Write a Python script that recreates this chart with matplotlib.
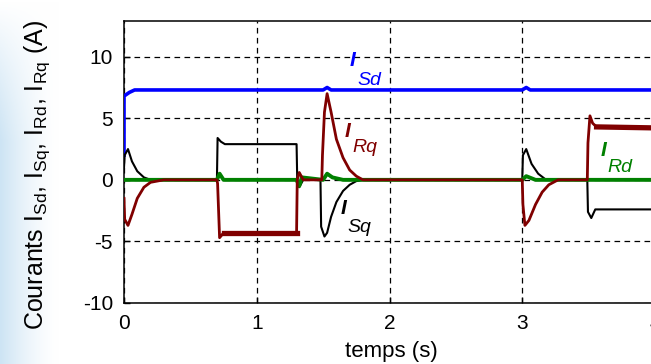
import matplotlib
matplotlib.use("Agg")
import matplotlib.pyplot as plt
import numpy as np

plt.rcParams['font.family'] = ['Liberation Sans', 'DejaVu Sans']
plt.rcParams['axes.unicode_minus'] = False

# I_Sd (blue)
t_sd = [0.0, 0.0, 0.04, 0.08, 1.50, 1.53, 1.56, 3.0, 3.03, 3.06, 4.1]
i_sd = [2.0, 6.8, 7.1, 7.3, 7.3, 7.5, 7.3, 7.3, 7.5, 7.3, 7.3]

# I_Sq (black)
t_sq = [0.0, 0.005, 0.03, 0.06, 0.10, 0.15, 0.20, 0.70, 0.705, 0.73, 0.76, 1.30,
        1.305, 1.32, 1.35, 1.48, 1.485, 1.51, 1.53, 1.56, 1.60, 1.65, 1.70, 1.75, 1.80,
        3.0, 3.005, 3.03, 3.07, 3.12, 3.18, 3.49, 3.495, 3.52, 3.55, 4.1]
i_sq = [1.0, 2.0, 2.5, 1.5, 0.7, 0.2, 0.0, 0.0, 3.4, 3.1, 2.9, 2.9,
        0.0, -0.6, 0.0, 0.0, -3.8, -4.6, -4.3, -3.0, -1.8, -0.9, -0.4, -0.1, 0.0,
        0.0, 2.0, 2.5, 1.3, 0.5, 0.0, 0.0, -2.6, -3.1, -2.4, -2.4]

# I_Rd (green)
t_rd = [0.0, 0.70, 0.72, 0.75, 1.30, 1.32, 1.34, 1.50, 1.53, 1.57, 1.65, 3.0, 3.03, 3.10, 4.1]
i_rd = [0.0, 0.0, 0.5, 0.0, 0.0, -0.5, 0.2, 0.0, 0.5, 0.2, 0.0, 0.0, 0.3, 0.0, 0.0]

# I_Rq (dark red)
t_rq = [0.0, 0.005, 0.03, 0.06, 0.10, 0.15, 0.20, 0.30, 0.70, 0.705, 0.72, 0.75,
        1.30, 1.305, 1.32, 1.35, 1.49, 1.495, 1.51, 1.53, 1.56, 1.60, 1.65, 1.70,
        1.75, 1.80, 3.0, 3.005, 3.02, 3.05, 3.10, 3.15, 3.20, 3.27, 3.49, 3.495,
        3.51, 3.53, 3.56, 4.1]
i_rq = [-1.5, -3.2, -3.7, -2.8, -1.5, -0.6, -0.2, 0.0, 0.0, -0.3, -4.7, -4.3,
        -4.3, 0.0, 0.6, 0.0, 0.0, 2.0, 5.5, 7.0, 5.5, 3.3, 1.8, 0.8,
        0.3, 0.0, 0.0, -2.0, -3.7, -3.3, -2.0, -1.0, -0.4, 0.0, 0.0, 3.0,
        5.2, 4.6, 4.3, 4.2]

x_ticks = [0, 1, 2, 3, 4]
y_ticks = [-10, -5, 0, 5, 10]

fig = plt.figure(figsize=(6.51, 3.64), dpi=100)

# light blue slide background on the left edge
bg = fig.add_axes([0, 0, 0.09, 1], zorder=-10)
xs = np.linspace(0, 1, 60)
ys = np.linspace(0, 1, 100)
alpha = (1 - xs[None, :]) ** 1.5 * np.clip(1.6 - 1.6 * ys[:, None] ** 2, 0, 1)
base = np.array([205, 228, 244]) / 255.0
img = 1 - alpha[..., None] * (1 - base)
bg.imshow(img, aspect='auto', extent=[0, 1, 0, 1], origin='lower')
bg.axis('off')

ax = fig.add_axes([124 / 651, 61 / 364, 531 / 651, 282 / 364])
ax.plot(t_sd, i_sd, color='#0000ff', lw=2.6, zorder=3)
ax.plot(t_sq, i_sq, color='black', lw=1.5, zorder=4)
ax.plot(t_rd, i_rd, color='#008000', lw=2.8, zorder=5)
ax.plot(t_rq, i_rq, color='#800000', lw=2.0, zorder=6)

# thicker plateaus of I_Rq
t_arr = np.array(t_rq)
i_arr = np.array(i_rq)
for lo, hi in [(0.75, 1.30), (3.56, 4.1)]:
    m = (t_arr >= lo) & (t_arr <= hi)
    ax.plot(t_arr[m], i_arr[m], color='#800000', lw=3.8, zorder=6)

ax.set_xlim(0, 4)
ax.set_ylim(-10, 12.9)
ax.set_xticks(x_ticks)
ax.set_yticks(y_ticks)
ax.tick_params(direction='in', length=4, width=1, labelsize=15, colors='black')
ax.tick_params(axis='y', pad=8)
ax.tick_params(axis='x', pad=8)
ax.grid(True, color='black', lw=0.9, ls=(0, (4.5, 3.5)))
for s in ax.spines.values():
    s.set_linewidth(1.1)

# curve labels
lab_i = dict(family='Liberation Sans', style='italic', weight='bold', fontsize=15)
lab_s = dict(style='italic', fontsize=14)
labels = [
    (1.70, 9.7, 1.755, 8.1, 'Sd', '#0000ff'),
    (1.66, 3.95, 1.72, 2.65, 'Rq', '#800000'),
    (1.63, -2.3, 1.68, -3.9, 'Sq', 'black'),
    (3.59, 2.35, 3.64, 0.97, 'Rd', '#008000'),
]
for xi, yi, xs_, ys_, sub, col in labels:
    ax.text(xi, yi, 'I', color=col, ha='left', va='center', zorder=8, **lab_i)
    ax.text(xs_, ys_, sub, color=col, ha='left', va='center', zorder=8, **lab_s)

fig.text(37 / 651, 1 - 175 / 364,
         r'Courants I$_{\mathregular{Sd}}$, I$_{\mathregular{Sq}}$, '
         r'I$_{\mathregular{Rd}}$, I$_{\mathregular{Rq}}$ (A)',
         rotation=90, ha='center', va='center', fontsize=18)
fig.text(391 / 651, 1 - 352 / 364, 'temps (s)', ha='center', va='center', fontsize=16)

fig.savefig('out.png', dpi=100)
